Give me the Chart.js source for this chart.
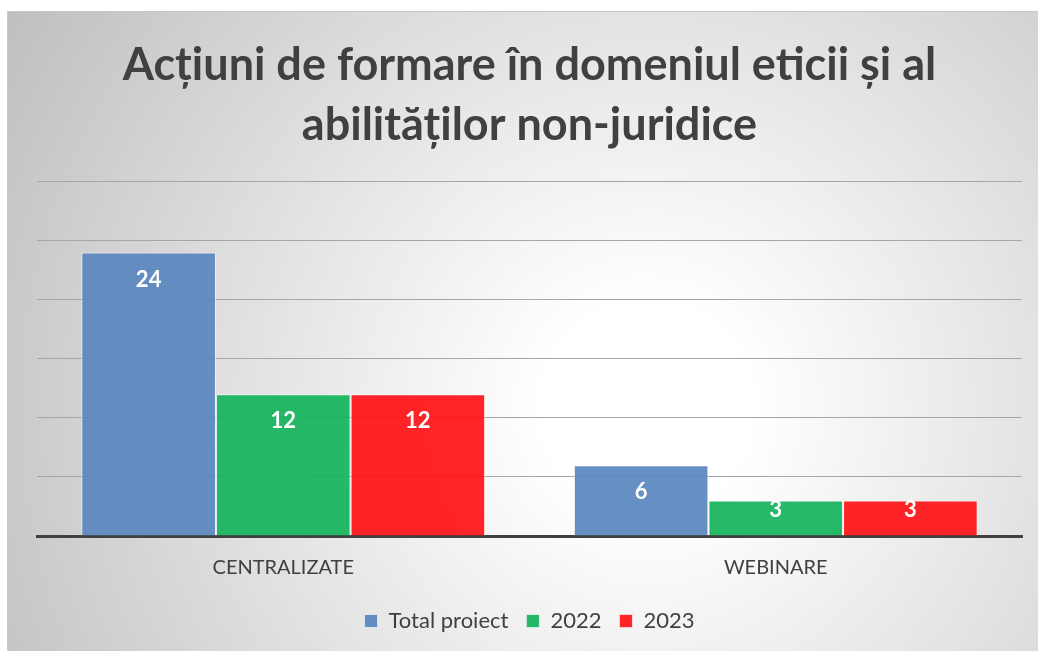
<!DOCTYPE html>
<html>
<head>
<meta charset="utf-8">
<script src="https://cdn.jsdelivr.net/npm/chart.js@4.4.0/dist/chart.umd.min.js"></script>
<style>
    html, body { margin: 0; padding: 0; background: #fff; }
    #frame {
        position: absolute; left: 7px; top: 11px; width: 1031px; height: 640px;
        background: radial-gradient(circle at 62% 62%, #ffffff 0%, #ffffff 14%, #e8e8e8 45%, #bfbfbf 100%);
        border-top: 1px solid #c8c8c8; border-left: 1px solid #c8c8c8;
        box-sizing: border-box;
    }
    canvas { display: block; }
</style>
</head>
<body>
<div id="frame"><canvas id="chart" width="1030" height="639"></canvas></div>
<script>
// Chart data
const categories = ['CENTRALIZATE', 'WEBINARE'];
const seriesNames = ['Total proiect', '2022', '2023'];
const totalValues = [24, 6];
const values2022 = [12, 3];
const values2023 = [12, 3];
const seriesColors = ['rgba(89,134,191,0.92)', 'rgba(19,180,91,0.92)', 'rgba(255,17,21,0.92)'];

// Bar value labels, drawn inside the top of each bar
const barLabels = {
    id: 'barLabels',
    afterDatasetsDraw(chart) {
        const ctx = chart.ctx;
        ctx.save();
        ctx.fillStyle = '#ffffff';
        ctx.font = 'bold 22px Lato';
        ctx.textAlign = 'center';
        ctx.textBaseline = 'middle';
        chart.data.datasets.forEach((ds, i) => {
            chart.getDatasetMeta(i).data.forEach((bar, j) => {
                const p = bar.getProps(['x', 'y', 'base'], true);
                const h = p.base - p.y;
                const y = p.y + Math.min(27, h / 2 - 8);
                ctx.fillText(ds.data[j], p.x, y);
            });
        });
        ctx.restore();
    }
};

const datasets = [totalValues, values2022, values2023].map((vals, i) => ({
    label: seriesNames[i],
    data: vals,
    backgroundColor: seriesColors[i],
    borderColor: 'rgba(255,255,255,0.6)',
    borderWidth: 1,
    categoryPercentage: 0.82,
    barPercentage: 1.0
}));

const ctx = document.getElementById('chart').getContext('2d');
new Chart(ctx, {
    type: 'bar',
    data: { labels: categories, datasets: datasets },
    options: {
        responsive: false,
        animation: false,
        layout: { padding: { left: 29, right: 16, top: 24, bottom: 9 } },
        plugins: {
            title: {
                display: true,
                text: ['Acțiuni de formare în domeniul eticii și al', 'abilităților non-juridice'],
                color: '#404040',
                font: { family: 'Lato', size: 45, weight: 'bold', lineHeight: 1.33 },
                padding: { top: 0, bottom: 26 }
            },
            legend: {
                position: 'bottom',
                labels: {
                    color: '#404040',
                    font: { family: 'Lato', size: 22 },
                    boxWidth: 13,
                    boxHeight: 13,
                    padding: 18
                }
            },
            tooltip: { enabled: false }
        },
        scales: {
            x: {
                grid: { display: false },
                border: { color: '#404040', width: 3 },
                ticks: { color: '#404040', font: { family: 'Lato', size: 20 }, padding: 12 }
            },
            y: {
                min: 0,
                max: 30,
                ticks: { stepSize: 5, display: false },
                grid: { color: '#a6a6a6', drawTicks: false },
                border: { display: false }
            }
        }
    },
    plugins: [barLabels]
});
</script>
</body>
</html>
